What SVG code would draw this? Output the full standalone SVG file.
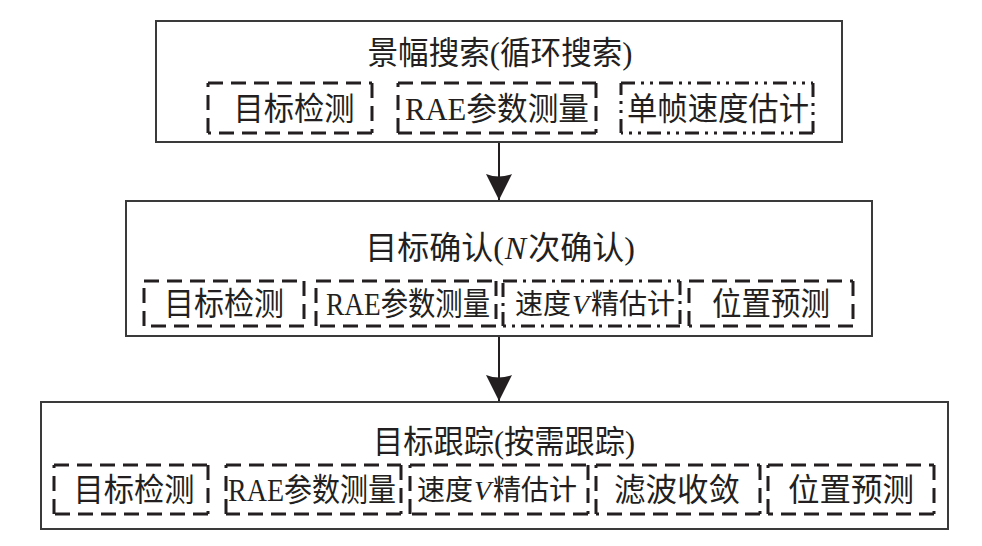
<svg xmlns="http://www.w3.org/2000/svg" width="982" height="546" viewBox="0 0 982 546">
<style>
.outer{fill:#fff;stroke:#3a3a3a;stroke-width:2}
.dash{fill:none;stroke:#231f20;stroke-width:3;stroke-dasharray:15 8}
.dd{fill:none;stroke:#231f20;stroke-width:3;stroke-dasharray:14 6 3 6 3 6}
.dt{fill:none;stroke:#231f20;stroke-width:3;stroke-dasharray:14 6 3 6}
text{font-family:'Liberation Serif','Noto Sans CJK SC',serif;font-size:32px;fill:#231f20;text-anchor:middle}
.it{font-style:italic}
.sv{font-size:28px}
.conn{stroke:#231f20;stroke-width:2;fill:none}
</style>
<defs>
<marker id="ah" viewBox="0 0 26 26" refX="26" refY="13" markerWidth="26" markerHeight="26" markerUnits="userSpaceOnUse" orient="auto">
<path d="M0,0 Q5,13 0,26 L26,13 Z" fill="#231f20"/>
</marker>
</defs>
<rect width="982" height="546" fill="#fff"/>
<g id="connectors">
<line class="conn" x1="499" y1="142" x2="499" y2="200" marker-end="url(#ah)"/>
<line class="conn" x1="499" y1="336" x2="499" y2="401" marker-end="url(#ah)"/>
</g>
<g id="search">
<rect class="outer" x="156" y="21" width="686" height="121"/>
<text x="500" y="64" textLength="265" lengthAdjust="spacingAndGlyphs">景幅搜索(循环搜索)</text>
<path class="dash" d="M208,83H372M372,83V133M372,133H208M208,133V83"/>
<text x="294" y="120" textLength="121" lengthAdjust="spacingAndGlyphs">目标检测</text>
<path class="dash" d="M398,83H596M596,83V133M596,133H398M398,133V83"/>
<text x="497" y="120" textLength="184" lengthAdjust="spacingAndGlyphs">RAE参数测量</text>
<path class="dd" d="M621,83H813M813,83V133M813,133H621M621,133V83"/>
<text x="718" y="120" textLength="182" lengthAdjust="spacingAndGlyphs">单帧速度估计</text>
</g>
<g id="confirm">
<rect class="outer" x="126" y="201" width="746" height="135"/>
<text x="500" y="259">目标确认(<tspan class="it" dx="1">N</tspan><tspan dx="2">次确认)</tspan></text>
<path class="dash" d="M144,281H304M304,281V326M304,326H144M144,326V281"/>
<text x="224" y="315" textLength="120" lengthAdjust="spacingAndGlyphs">目标检测</text>
<path class="dash" d="M316,281H496M496,281V326M496,326H316M316,326V281"/>
<text x="408" y="315" textLength="164" lengthAdjust="spacingAndGlyphs">RAE参数测量</text>
<path class="dt" d="M503,281H680M680,281V326M680,326H503M503,326V281"/>
<text class="sv" x="595" y="314">速度<tspan class="it" dx="1">V</tspan><tspan dx="2">精估计</tspan></text>
<path class="dash" d="M689,281H853M853,281V326M853,326H689M689,326V281"/>
<text x="771" y="315" textLength="118" lengthAdjust="spacingAndGlyphs">位置预测</text>
</g>
<g id="track">
<rect class="outer" x="41" y="402" width="907" height="127"/>
<text x="504" y="453" textLength="262" lengthAdjust="spacingAndGlyphs">目标跟踪(按需跟踪)</text>
<path class="dash" d="M54,465H208M208,465V514M208,514H54M54,514V465"/>
<text x="134" y="501" textLength="121" lengthAdjust="spacingAndGlyphs">目标检测</text>
<path class="dash" d="M226,465H401M401,465V514M401,514H226M226,514V465"/>
<text x="312" y="501" textLength="168" lengthAdjust="spacingAndGlyphs">RAE参数测量</text>
<path class="dash" d="M410,465H588M588,465V514M588,514H410M410,514V465"/>
<text class="sv" x="497" y="500">速度<tspan class="it" dx="1">V</tspan><tspan dx="2">精估计</tspan></text>
<path class="dash" d="M596,465H760M760,465V514M760,514H596M596,514V465"/>
<text x="677" y="501" textLength="126" lengthAdjust="spacingAndGlyphs">滤波收敛</text>
<path class="dash" d="M768,465H934M934,465V514M934,514H768M768,514V465"/>
<text x="851" y="501" textLength="126" lengthAdjust="spacingAndGlyphs">位置预测</text>
</g>
</svg>
